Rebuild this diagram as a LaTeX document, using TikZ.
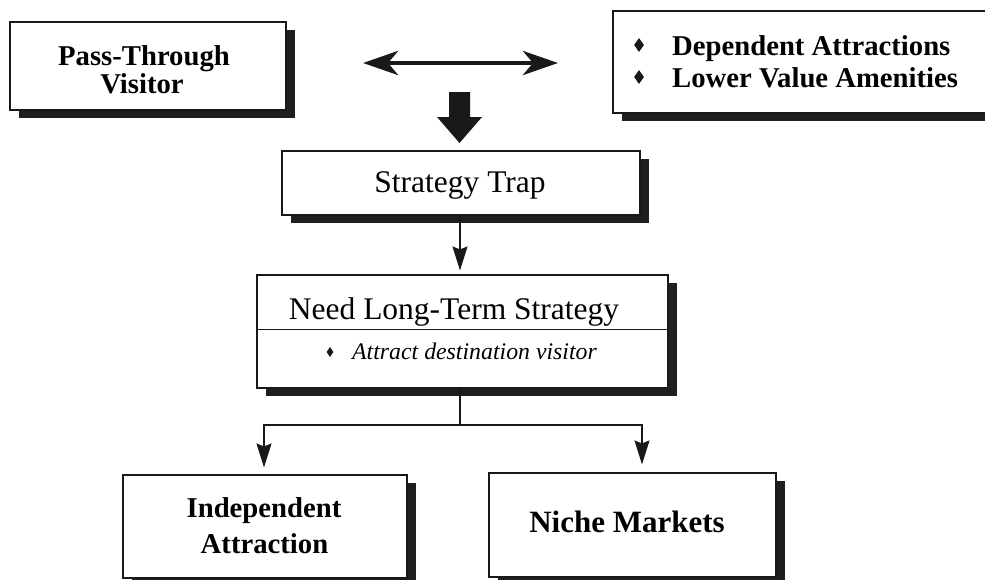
\documentclass[tikz,border=0pt]{standalone}
\usepackage{fontspec}
\setmainfont{Liberation Serif}
\usetikzlibrary{arrows.meta,shadows,shapes.geometric,calc}

\begin{document}
\begin{tikzpicture}[x=1pt,y=-1pt,
  box/.style={draw=black!90, line width=1.1pt, fill=white, inner sep=0pt,
    drop shadow={shadow xshift=9pt, shadow yshift=-8pt, fill=black!88, opacity=1}},
  boldtxt/.style={inner sep=0pt, font=\fontsize{28.7}{30}\selectfont\bfseries},
  regtxt/.style={inner sep=0pt, font=\fontsize{31.5}{33}\selectfont},
  itxt/.style={inner sep=0pt, font=\fontsize{23.8}{25}\selectfont\itshape},
  bullet/.style={diamond, fill=black!90, inner sep=0pt, minimum width=10pt, minimum height=14pt},
  smallbullet/.style={diamond, fill=black!90, inner sep=0pt, minimum width=7pt, minimum height=10pt},
  conn/.style={draw=black!90, line width=1.1pt, -{Stealth[length=24pt, width=15pt, inset=3pt]}},
  link/.style={draw=black!90, line width=1.1pt}
]
\useasboundingbox (0,0) rectangle (985,579);
\clip (0,0) rectangle (985,579);

% boxes
\node[box, minimum width=276pt, minimum height=88pt]  (pass)  at (148,66) {};
\node[box, minimum width=400pt, minimum height=102pt] (dep)   at (813,62) {};
\node[box, minimum width=358pt, minimum height=64pt]  (trap)  at (461,183) {};
\node[box, minimum width=411pt, minimum height=113pt] (need)  at (462.5,331.5) {};
\node[box, minimum width=284pt, minimum height=103pt] (indep) at (265,526.5) {};
\node[box, minimum width=287pt, minimum height=104pt] (niche) at (632.5,525) {};

% divider inside the strategy box
\draw[link] ($(need.north west)+(0,55)$) -- ($(need.north east)+(0,55)$);

% box texts
\node[boldtxt, anchor=base] (passA) at (144,65) {Pass-Through};
\node[boldtxt, anchor=base] (passB) at (142,93) {Visitor};

\node[bullet] (b1) at (639,45) {};
\node[bullet] (b2) at (639,77) {};
\node[boldtxt, anchor=base west] (dep1) at (672,55) {Dependent Attractions};
\node[boldtxt, anchor=base west] (dep2) at (672,87) {Lower Value Amenities};

\node[regtxt, anchor=base] (trapT) at (460,192) {Strategy Trap};

\node[regtxt, anchor=base] (needT) at (454,319) {Need Long-Term Strategy};
\node[smallbullet] (b3) at (330,352) {};
\node[itxt, anchor=base west] (needS) at (352,359) {Attract destination visitor};

\node[boldtxt, anchor=base] (indA) at (264,517) {Independent};
\node[boldtxt, anchor=base] (indB) at (264.5,553) {Attraction};

\node[inner sep=0pt, font=\fontsize{31}{33}\selectfont\bfseries, anchor=base] (nicheT) at (627,532) {Niche Markets};

% two-way arrow between the top boxes
\coordinate (dl) at (363,63);
\coordinate (dr) at (558,63);
\draw[draw=black!90, line width=4.5pt,
  {Stealth[length=35pt, width=24pt, inset=10pt]}-{Stealth[length=35pt, width=24pt, inset=10pt]}] (dl) -- (dr);

% heavy block arrow down to the trap
\coordinate (bigtop) at (459.5,92);
\fill[black!90] (bigtop) ++(-10.5,0) -- ++(21,0) -- ++(0,25) -- ++(12,0)
  -- ++(-22.5,26) -- ++(-22.5,-26) -- ++(12,0) -- cycle;

% trap to long-term strategy
\draw[conn] (trap.south -| 460,0) -- ($(need.north -| 460,0)+(0,-4)$);

% split to the two outcomes
\coordinate (split) at (460,425);
\draw[link] (need.south -| split) -- (split);
\draw[conn, shorten >=7pt] (split) -| ($(indep.north)+(-1,0)$);
\draw[conn, shorten >=8pt] (split) -| ($(niche.north)+(9.5,0)$);
\end{tikzpicture}
\end{document}
